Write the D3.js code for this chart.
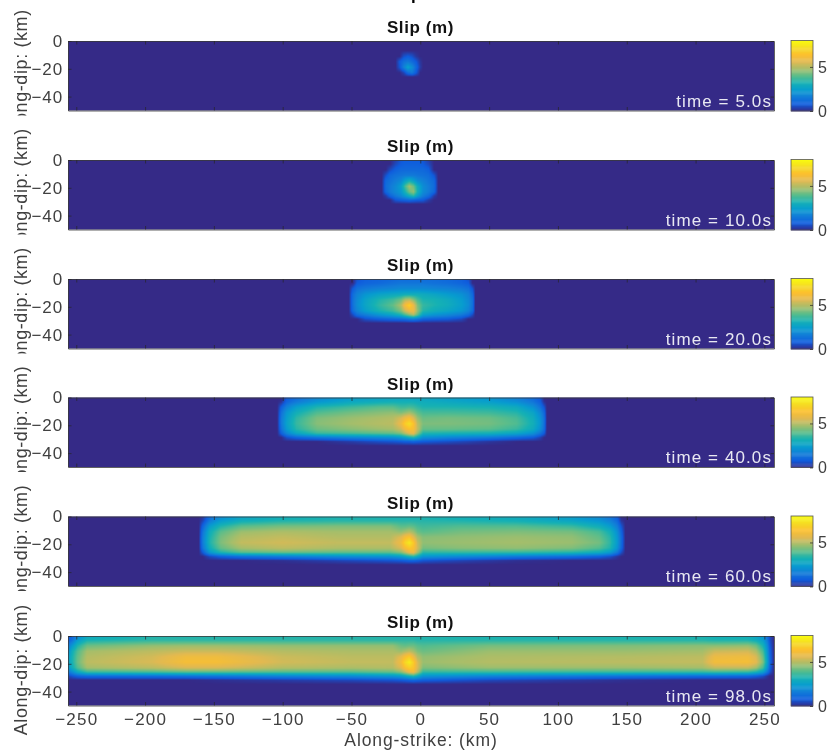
<!DOCTYPE html>
<html>
<head>
<meta charset="utf-8">
<title>Slip snapshots</title>
<script src="https://cdn.jsdelivr.net/npm/d3@7"></script>
<style>
  html, body { margin: 0; padding: 0; background: #fff; overflow: hidden; }
  svg { display: block; filter: blur(0.45px); }
  text { font-family: "Liberation Sans", Arial, sans-serif; }
</style>
</head>
<body>
<div id="chart"></div>
<script>
// Values. Rows follow depthKnots; depths past the last row listed are zero slip.
const depthKnots = [0, -3, -7, -11, -15, -19, -23, -26, -29, -32, -35, -50];
const xTicks = [-250, -200, -150, -100, -50, 0, 50, 100, 150, 200, 250];
const yTicks = [0, -20, -40];
const cbarTicks = [0, 5];
const snapshotTimes = ['5.0', '10.0', '20.0', '40.0', '60.0', '98.0'];

const parulaStops = [0, 0.1, 0.2, 0.3, 0.4, 0.5, 0.6, 0.7, 0.8, 0.9, 1];
const parulaColors = ['#352a87', '#0f5cdd', '#127dd8', '#079cCf', '#15b1b4', '#59bd8c',
  '#a5be6b', '#e1b952', '#fcc02e', '#f5dc24', '#f9fb0e'];

const x5 = [-18, -15, -12, -9, -6, -3, 0, 2];
const slip5 = [
  [0, 0, 0, 0, 0, 0, 0, 0],
  [0, 0, 0, 0, 0, 0, 0, 0],
  [0, 0, 0, 0, 0, 0, 0, 0],
  [0, 0, .6, .8, .6, .2, 0, 0],
  [0, .8, 1.3, 1.5, 1.2, .8, .2, 0],
  [0, .7, 1.7, 2.6, 2, 1.1, .3, 0],
  [0, 0, .4, 1.2, 1.5, .8, 0, 0]
];

const x10 = [-28, -25, -22, -18, -14, -11, -8, -5, -2, 2, 6, 10, 13];
const slip10 = [
  [0, 0, 0, .3, .7, .8, .8, .8, .8, .7, .3, 0, 0],
  [0, 0, 0, .5, .8, .9, .9, .9, .9, .8, .5, 0, 0],
  [0, 0, .5, .9, 1.1, 1.1, 1.1, 1.1, 1.1, 1.1, .9, 0, 0],
  [0, .6, 1.1, 1.3, 1.4, 1.5, 1.5, 1.5, 1.4, 1.3, 1.2, .7, 0],
  [0, 1.1, 1.3, 1.6, 1.9, 2.6, 3.1, 2.6, 2, 1.7, 1.4, 1.1, 0],
  [0, 1.2, 1.5, 1.9, 2.5, 3.8, 4.8, 4.2, 3, 2, 1.6, 1.2, 0],
  [0, 1.1, 1.5, 1.9, 2.3, 3.2, 4.2, 4.6, 3.2, 2, 1.6, 1.1, 0],
  [0, .3, 1, 1.5, 1.9, 2.4, 3, 3.4, 2.5, 1.6, 1.2, .3, 0],
  [0, 0, 0, .7, .9, 1, 1.1, 1, .9, .8, .3, 0, 0]
];

const x20 = [-52, -49, -46, -40, -30, -20, -14, -11, -8, -5, -2, 2, 10, 20, 30, 35, 38, 40];
const slip20 = [
  [0, 0, .6, .9, 1, 1.1, 1.2, 1.2, 1.2, 1.2, 1.2, 1.2, 1.2, 1.1, .9, .6, 0, 0],
  [0, 0, .8, 1, 1.1, 1.3, 1.4, 1.4, 1.4, 1.4, 1.4, 1.4, 1.3, 1.2, 1, .8, 0, 0],
  [0, .8, 1.3, 1.5, 1.7, 1.8, 1.9, 1.9, 1.9, 1.9, 1.9, 1.9, 1.8, 1.7, 1.5, 1.3, .7, 0],
  [0, 1.2, 1.7, 2.2, 2.6, 2.8, 2.9, 3, 3, 3, 3, 2.9, 2.7, 2.4, 2.1, 1.7, 1.1, 0],
  [0, 1.3, 1.9, 2.6, 3.3, 3.7, 4.2, 4.9, 5.1, 4.5, 3.8, 3.3, 3.2, 2.9, 2.4, 1.9, 1.3, 0],
  [0, 1.3, 2, 2.7, 3.5, 4.1, 4.9, 6.2, 6.9, 5.9, 4.4, 3.6, 3.3, 3, 2.5, 2, 1.3, 0],
  [0, 1.2, 1.8, 2.5, 3.2, 3.7, 4.4, 5.3, 5.9, 5.9, 4.6, 3.4, 3, 2.7, 2.3, 1.8, 1.2, 0],
  [0, .5, 1.2, 1.6, 2.2, 2.7, 3.2, 3.8, 4.4, 4.9, 4, 2.6, 2.2, 1.9, 1.5, 1.1, .5, 0],
  [0, 0, 0, .6, .9, 1.1, 1.2, 1.3, 1.5, 1.6, 1.4, 1, .9, .8, .5, 0, 0, 0]
];

const x40 = [-104, -101, -97, -90, -75, -50, -30, -20, -14, -11, -8, -5, -2, 2, 20, 50, 70, 82, 87, 90, 92];
const slip40 = [
  [0, 0, .8, 1.2, 1.8, 2.4, 2.6, 2.7, 2.7, 2.7, 2.7, 2.7, 2.7, 2.7, 2.5, 2.2, 1.6, 1.1, .7, 0, 0],
  [0, .1, 1, 1.5, 2.2, 2.8, 3, 3.1, 3.1, 3.1, 3.1, 3.1, 3, 3, 2.8, 2.5, 2, 1.4, .9, .1, 0],
  [0, .9, 1.7, 2.5, 3.3, 3.7, 4, 4, 3.7, 3.7, 3.8, 3.7, 3.5, 3.3, 3.3, 3.2, 2.9, 2.1, 1.4, .7, 0],
  [0, 1.3, 2.3, 3.1, 3.9, 4.3, 4.5, 4.6, 4.4, 4.6, 4.8, 4.5, 4.1, 3.8, 3.8, 3.7, 3.4, 2.7, 1.9, 1.1, 0],
  [0, 1.5, 2.5, 3.5, 4.4, 4.7, 4.9, 5, 5.5, 6, 6.3, 5.6, 4.7, 4.2, 4.3, 4.2, 3.8, 3, 2.2, 1.3, 0],
  [0, 1.5, 2.6, 3.6, 4.5, 4.8, 5, 5.1, 5.9, 6.8, 7.3, 6.5, 5.1, 4.4, 4.4, 4.3, 3.9, 3.1, 2.3, 1.3, 0],
  [0, 1.3, 2.4, 3.4, 4.2, 4.5, 4.7, 4.8, 5.3, 6, 6.4, 6.2, 5.2, 4.1, 4.1, 4, 3.6, 2.9, 2.1, 1.2, 0],
  [0, .9, 1.8, 2.7, 3.6, 3.8, 4, 4.1, 4.4, 5, 5.6, 5.8, 4.6, 3.3, 3.2, 3.1, 2.7, 2.1, 1.4, .8, 0],
  [0, 0, .6, 1, 1.4, 1.8, 2, 2.1, 2.4, 2.7, 3, 3.3, 2.8, 2.1, 1.8, 1.5, 1.1, .8, .4, 0, 0],
  [0, 0, 0, 0, 0, .3, .6, .7, .8, .9, .9, 1, .9, .8, .6, .2, 0, 0, 0, 0, 0]
];

const x60 = [-161, -158, -153, -145, -130, -100, -60, -22, -14, -11, -8, -5, -2, 2, 30, 70, 110, 130, 138, 143, 146, 149];
const slip60 = [
  [0, .2, 1.2, 1.9, 2.6, 3, 3.2, 3.2, 3.2, 3.2, 3.2, 3.2, 3.2, 3.2, 3, 2.9, 2.4, 1.8, 1.3, .8, 0, 0],
  [0, .4, 1.5, 2.4, 3, 3.3, 3.4, 3.4, 3.4, 3.4, 3.4, 3.4, 3.4, 3.4, 3.3, 3.1, 2.7, 2.2, 1.7, 1.1, .2, 0],
  [0, 1, 2.4, 3.3, 4, 4.3, 4.4, 4.4, 4, 4, 4.1, 4, 3.8, 3.7, 3.9, 3.9, 3.6, 3, 2.4, 1.6, .7, 0],
  [0, 1.4, 3, 4, 4.7, 4.9, 4.8, 4.8, 4.6, 4.8, 5, 4.7, 4.2, 4, 4.3, 4.4, 4.3, 3.8, 3.1, 2.1, 1, 0],
  [0, 1.6, 3.2, 4.3, 5, 5.2, 5, 5, 5.6, 6.2, 6.5, 5.7, 4.9, 4.5, 4.6, 4.7, 4.6, 4.1, 3.4, 2.3, 1.2, 0],
  [0, 1.6, 3.3, 4.4, 5.2, 5.4, 5.2, 5.2, 6, 7, 7.6, 6.7, 5.3, 4.6, 4.7, 4.8, 4.7, 4.3, 3.5, 2.4, 1.2, 0],
  [0, 1.4, 3, 4.1, 4.8, 5.1, 4.9, 4.9, 5.5, 6.2, 6.6, 6.3, 5.4, 4.3, 4.5, 4.6, 4.4, 3.9, 3.3, 2.2, 1.1, 0],
  [0, .8, 2.3, 3.3, 4, 4.2, 4.1, 4.1, 4.5, 5.1, 5.8, 6, 4.8, 3.5, 3.6, 3.6, 3.4, 3, 2.4, 1.5, .6, 0],
  [0, 0, .5, .9, 1.3, 1.6, 2, 2.2, 2.5, 2.8, 3.1, 3.4, 2.9, 2.2, 1.9, 1.5, 1.2, .9, .6, .2, 0, 0],
  [0, 0, 0, 0, 0, .1, .4, .7, .8, .9, 1, 1, .9, .7, .4, .1, 0, 0, 0, 0, 0, 0]
];

const x98 = [-256, -253, -249, -242, -195, -170, -148, -100, -50, -20, -14, -11, -8, -5, -2, 2, 50, 150, 205, 214, 238, 244, 249, 252, 254, 257];
const slip98 = [
  [.7, 1, 1.8, 2.8, 3.3, 3.3, 3.3, 3.3, 3.3, 3.3, 3.3, 3.3, 3.3, 3.3, 3.3, 3.3, 3.2, 3.2, 3.2, 3.1, 3, 2.7, 2.2, 1.3, .5, 0],
  [.8, 1.3, 2.4, 3.2, 3.5, 3.5, 3.5, 3.5, 3.5, 3.5, 3.5, 3.5, 3.5, 3.5, 3.4, 3.4, 3.4, 3.4, 3.4, 3.3, 3.3, 3, 2.5, 1.5, .6, 0],
  [1.5, 2.3, 3.3, 4.2, 4.6, 4.7, 4.7, 4.6, 4.6, 4.6, 4.2, 4.1, 4.2, 4.2, 4, 3.9, 4.3, 4.4, 4.5, 4.5, 4.6, 4.2, 3.2, 2, .8, 0],
  [2, 3, 3.9, 4.8, 5.1, 5.3, 5.3, 5, 4.9, 4.9, 4.7, 4.9, 5.1, 4.8, 4.4, 4.2, 4.7, 4.7, 4.8, 5.3, 5.4, 4.9, 3.8, 2.3, 1, 0],
  [2.4, 3.2, 4.1, 5, 5.4, 6, 6, 5.3, 5.1, 5.1, 5.7, 6.3, 6.7, 5.9, 5, 4.6, 4.9, 5, 5.1, 5.9, 6, 5.5, 4.2, 2.5, 1.1, 0],
  [2.5, 3.2, 4.2, 5.1, 5.5, 6.2, 6.2, 5.4, 5.2, 5.2, 6.1, 7.1, 7.7, 6.8, 5.5, 4.7, 5, 5.1, 5.2, 6.1, 6.2, 5.7, 4.4, 2.7, 1.2, 0],
  [2.2, 3, 3.9, 4.8, 5.1, 5.5, 5.5, 5, 4.9, 5, 5.6, 6.4, 6.8, 6.5, 5.5, 4.4, 4.7, 4.7, 4.8, 5.2, 5.2, 4.8, 3.8, 2.3, 1, 0],
  [1.4, 2, 2.9, 3.7, 3.9, 4.1, 4.1, 4, 4, 4.2, 4.6, 5.2, 5.9, 6.1, 5, 3.6, 3.7, 3.7, 3.7, 3.8, 3.7, 3.3, 2.6, 1.5, .7, 0],
  [.4, .7, 1, 1.2, 1.3, 1.4, 1.5, 1.8, 2, 2.3, 2.5, 2.8, 3.1, 3.4, 2.9, 2.2, 1.8, 1.4, 1.2, 1.2, 1.1, .9, .6, .2, 0, 0],
  [0, 0, 0, 0, 0, 0, .1, .3, .5, .7, .8, .9, 1, 1.1, 1, .9, .5, .1, 0, 0, 0, 0, 0, 0, 0, 0]
];

const snapshotX = [x5, x10, x20, x40, x60, x98];
const snapshotSlip = [slip5, slip10, slip20, slip40, slip60, slip98];

// ---- layout ----
const width = 828, height = 753;
const axLeft = 68, axRight = 774, axHeight = 69.5;
const axTops = [41, 160, 279, 397.5, 516.5, 636];
const cbLeft = 791, cbRight = 813, cbMax = 8;
const inkColor = '#404040';

const xScale = d3.scaleLinear().domain([-256, 257]).range([axLeft, axRight]);
const yScale = d3.scaleLinear().domain([0, -50]).range([0, axHeight]);
const slipScale = d3.scaleLinear().domain([0, cbMax]).range([0, 1]).clamp(true);
const colorScale = d3.scaleLinear().domain(parulaStops).range(parulaColors).clamp(true);
const slipColor = v => colorScale(slipScale(v));

const svg = d3.select('#chart').append('svg')
  .attr('width', width)
  .attr('height', height)
  .attr('viewBox', `0 0 ${width} ${height}`);

// cut-off descender of the overall title, at the very top of the picture
svg.append('text')
  .attr('x', 411).attr('y', 0)
  .attr('font-size', 17).attr('font-weight', 'bold').attr('fill', '#000')
  .text('p');

function cellIndex(knots, v, descending) {
  // index of the knot interval holding v
  const bis = descending ? d3.bisector(d => -d).right(knots, -v) : d3.bisectRight(knots, v);
  return Math.max(0, Math.min(knots.length - 2, bis - 1));
}

// Shaded like MATLAB's "shading interp": each pixel blends the four surrounding grid values.
function renderSlip(xKnots, rows) {
  const w = Math.round(axRight - axLeft), h = Math.round(axHeight);
  const canvas = document.createElement('canvas');
  canvas.width = w;
  canvas.height = h;
  const ctx = canvas.getContext('2d');
  const image = ctx.createImageData(w, h);
  const valueAt = (r, c) => (rows[r] ? rows[r][c] : 0);
  for (let py = 0; py < h; py++) {
    const depth = yScale.invert(py + 0.5);
    const r = cellIndex(depthKnots, depth, true);
    const tr = (depth - depthKnots[r]) / (depthKnots[r + 1] - depthKnots[r]);
    for (let px = 0; px < w; px++) {
      const km = xScale.invert(axLeft + px + 0.5);
      let v = 0;
      if (km >= xKnots[0] && km <= xKnots[xKnots.length - 1]) {
        const c = cellIndex(xKnots, km, false);
        const tc = (km - xKnots[c]) / (xKnots[c + 1] - xKnots[c]);
        v = (1 - tr) * ((1 - tc) * valueAt(r, c) + tc * valueAt(r, c + 1)) +
          tr * ((1 - tc) * valueAt(r + 1, c) + tc * valueAt(r + 1, c + 1));
      }
      const col = d3.rgb(slipColor(v));
      const i = (py * w + px) * 4;
      image.data[i] = col.r;
      image.data[i + 1] = col.g;
      image.data[i + 2] = col.b;
      image.data[i + 3] = 255;
    }
  }
  ctx.putImageData(image, 0, 0);
  return canvas.toDataURL();
}

function styleAxis(g) {
  g.selectAll('.domain').attr('stroke', '#3a3a3a').attr('stroke-width', 0.8);
  g.selectAll('.tick line').attr('stroke', '#262626').attr('stroke-width', 0.7);
  g.selectAll('text').attr('fill', inkColor).attr('font-size', 17)
    .attr('font-family', '"Liberation Sans", Arial, sans-serif');
}

snapshotTimes.forEach((time, idx) => {
  const top = axTops[idx];
  const isLast = idx === snapshotTimes.length - 1;
  const panel = svg.append('g').attr('class', 'panel').attr('transform', `translate(0,${top})`);

  panel.append('image')
    .attr('x', axLeft).attr('y', 0)
    .attr('width', axRight - axLeft).attr('height', axHeight)
    .attr('preserveAspectRatio', 'none')
    .attr('href', renderSlip(snapshotX[idx], snapshotSlip[idx]));

  panel.append('text')
    .attr('x', (axLeft + axRight) / 2 - 0.5).attr('y', -8)
    .attr('text-anchor', 'middle')
    .attr('font-size', 17).attr('font-weight', 'bold').attr('fill', '#111')
    .attr('letter-spacing', 0.6)
    .text('Slip (m)');

  panel.append('text')
    .attr('x', axRight - 2).attr('y', axHeight - 4)
    .attr('text-anchor', 'end')
    .attr('font-size', 17).attr('fill', '#e8e8f2')
    .attr('letter-spacing', 1.1)
    .text(`time = ${time}s`);

  // axes, ticks pointing inward on all four sides
  const bottom = panel.append('g').attr('transform', `translate(0,${axHeight})`)
    .call(d3.axisBottom(xScale).tickValues(xTicks).tickSize(-3.5).tickSizeOuter(0).tickPadding(7)
      .tickFormat(isLast ? d3.format('d') : ''));
  styleAxis(bottom);
  bottom.selectAll('text').attr('letter-spacing', 1.2);
  const topAxis = panel.append('g')
    .call(d3.axisTop(xScale).tickValues(xTicks).tickSize(-3.5).tickSizeOuter(0).tickFormat(''));
  styleAxis(topAxis);
  const left = panel.append('g').attr('transform', `translate(${axLeft},0)`)
    .call(d3.axisLeft(yScale).tickValues(yTicks).tickSize(-3.5).tickSizeOuter(0).tickPadding(5)
      .tickFormat(d3.format('d')));
  styleAxis(left);
  left.selectAll('text').attr('letter-spacing', 0.9);
  const right = panel.append('g').attr('transform', `translate(${axRight},0)`)
    .call(d3.axisRight(yScale).tickValues(yTicks).tickSize(-3.5).tickSizeOuter(0).tickFormat(''));
  styleAxis(right);

  // y label runs under the panel below, so it is cut off there except on the last one
  const clipId = `label-clip-${idx}`;
  panel.append('clipPath').attr('id', clipId).append('rect')
    .attr('x', 0).attr('y', -top - 10).attr('width', 60)
    .attr('height', top + 10 + axHeight + (isLast ? 60 : 5));
  panel.append('g').attr('clip-path', `url(#${clipId})`)
    .append('text')
    .attr('transform', `translate(27,${axHeight / 2 - 1}) rotate(-90)`)
    .attr('text-anchor', 'middle')
    .attr('font-size', 18).attr('fill', inkColor)
    .attr('letter-spacing', 0.6)
    .text('Along-dip: (km)');

  // colorbar, 64 levels like the MATLAB colormap
  const cbScale = d3.scaleLinear().domain([0, cbMax]).range([axHeight + 0.5, -0.5]);
  const cb = panel.append('g').attr('class', 'colorbar');
  const levels = d3.range(64).map(i => (i + 0.5) * cbMax / 64);
  cb.selectAll('rect').data(levels).join('rect')
    .attr('x', cbLeft).attr('width', cbRight - cbLeft)
    .attr('y', d => cbScale(d + cbMax / 128))
    .attr('height', (axHeight + 1) / 64 + 0.4)
    .attr('fill', d => slipColor(d));
  cb.append('rect')
    .attr('x', cbLeft).attr('y', -0.5)
    .attr('width', cbRight - cbLeft).attr('height', axHeight + 1)
    .attr('fill', 'none').attr('stroke', '#555').attr('stroke-width', 0.8);
  const cbAxis = cb.append('g').attr('transform', `translate(${cbRight},0)`)
    .call(d3.axisRight(cbScale).tickValues(cbarTicks).tickSize(-3).tickSizeOuter(0).tickPadding(5)
      .tickFormat(d3.format('d')));
  cbAxis.selectAll('.domain').remove();
  styleAxis(cbAxis);
  cbAxis.selectAll('text').attr('font-size', 16);
});

svg.append('text')
  .attr('x', (axLeft + axRight) / 2).attr('y', 746)
  .attr('text-anchor', 'middle')
  .attr('font-size', 17.5).attr('fill', inkColor)
  .attr('letter-spacing', 0.9)
  .text('Along-strike: (km)');
</script>
</body>
</html>
